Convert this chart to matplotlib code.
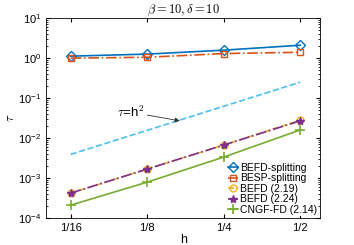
import matplotlib
matplotlib.use("Agg")
import matplotlib.pyplot as plt
import numpy as np
from matplotlib.ticker import LogLocator, NullFormatter

plt.rcParams['font.family'] = ['Liberation Sans', 'DejaVu Sans']
plt.rcParams['mathtext.fontset'] = 'cm'

h = [1/16, 1/8, 1/4, 1/2]
h_labels = ['1/16', '1/8', '1/4', '1/2']

befd_split = [1.12, 1.26, 1.58, 2.1]
besp_split = [1.0, 1.05, 1.3, 1.4]
befd_219 = [4.2e-4, 1.68e-3, 6.7e-3, 0.028]
befd_224 = [4.2e-4, 1.68e-3, 6.7e-3, 0.027]
cngf_fd = [2.1e-4, 7.9e-4, 3.35e-3, 0.016]

fig = plt.figure(figsize=(3.54, 2.45), dpi=100)
ax = fig.add_axes([0.13, 0.11, 0.775, 0.816])

ax.plot(h, befd_split, '-', color=(0, 0.447, 0.741), marker='D', mfc='none',
        ms=5, lw=1.2, label='BEFD-splitting')
ax.plot(h, besp_split, '-.', color=(0.85, 0.325, 0.098), marker='s', mfc='none',
        ms=5, lw=1.2, label='BESP-splitting')
ax.plot(h, befd_219, '--', color=(0.929, 0.694, 0.125), marker='o', mfc='none',
        ms=5, lw=1.2, label='BEFD (2.19)')
ax.plot(h, befd_224, '-.', color=(0.494, 0.184, 0.556), marker='*',
        ms=6, lw=1.2, label='BEFD (2.24)')
ax.plot(h, cngf_fd, '-', color=(0.466, 0.674, 0.188), marker='+',
        ms=7, mew=1.2, lw=1.2, label='CNGF-FD (2.14)')
ax.plot(h, np.array(h) ** 2, '--', color=(0.301, 0.745, 0.933), lw=1.2)

ax.annotate(r'$\tau$=h$^2$', xy=(0.168, 0.027), xytext=(0.095, 0.034),
            fontsize=9.5, arrowprops=dict(arrowstyle='-|>', color='0.2', lw=0.6,
                                          mutation_scale=7, shrinkA=0, shrinkB=0))

ax.set_xscale('log', base=2)
ax.set_yscale('log')
ax.set_xlim(0.05, 0.6)
ax.set_ylim(1e-4, 10)
ax.set_xticks(h)
ax.set_xticklabels(h_labels)
ax.minorticks_off()
ax.set_yticks([1e-4, 1e-3, 1e-2, 1e-1, 1, 10])
ax.yaxis.set_minor_locator(LogLocator(base=10, subs=np.arange(2, 10), numticks=20))
ax.yaxis.set_minor_formatter(NullFormatter())
ax.tick_params(which='both', direction='in', top=True, right=True, labelsize=8)
ax.tick_params(which='major', length=3)
ax.tick_params(which='minor', length=1.5)
for s in ax.spines.values():
    s.set_linewidth(0.6)

ax.set_xlabel('h', fontsize=9, labelpad=1)
ax.set_ylabel(r'$\tau$', fontsize=9, labelpad=1)
ax.set_title(r'$\beta=10,\delta=10$', fontsize=9, pad=4)

leg = ax.legend(loc='lower right', fontsize=7.5, handlelength=1.0, handletextpad=0.2,
                labelspacing=0.05, borderpad=0.1, borderaxespad=0.2,
                fancybox=False, edgecolor='none', framealpha=1)

fig.savefig('out.png', dpi=100)
